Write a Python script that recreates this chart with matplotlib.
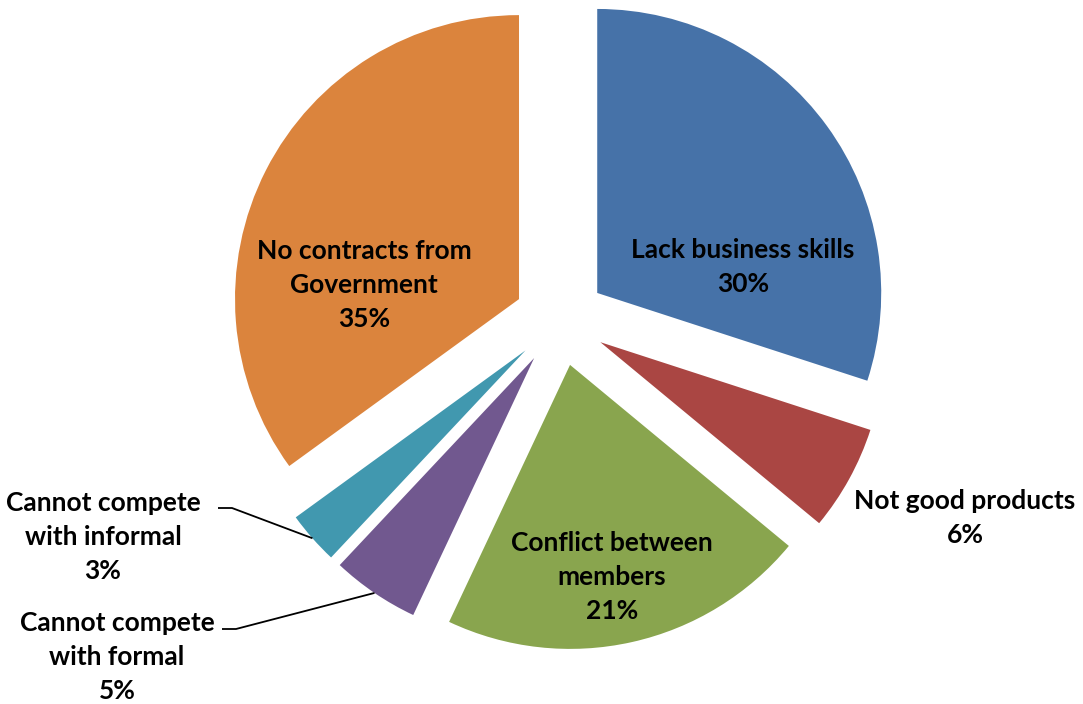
import numpy as np
import matplotlib
matplotlib.use("Agg")
import matplotlib.pyplot as plt

# data
categorias = [
    "Lack business skills",
    "Not good products",
    "Conflict between\nmembers",
    "Cannot compete\nwith formal",
    "Cannot compete\nwith informal",
    "No contracts from\nGovernment",
]
valores = [30, 6, 21, 5, 3, 35]
cores = ["#4672A8", "#AA4643", "#89A54E", "#71588F", "#4198AF", "#DB843D"]

W, H = 1083, 704
CX, CY, R = 560, 320, 284  # centro e raio em pixels


def px(x, y):
    # pixel (origem no topo) -> coordenadas do eixo
    return (x - CX) / R, (CY - y) / R


fig = plt.figure(figsize=(W / 100, H / 100), dpi=100, facecolor="white")
ax = fig.add_axes([0, 0, 1, 1])

wedges, _ = ax.pie(
    valores,
    colors=cores,
    startangle=90,
    counterclock=False,
    explode=[0.162] * len(valores),
    radius=1,
    wedgeprops=dict(linewidth=0),
)

ax.set_xlim(-CX / R, (W - CX) / R)
ax.set_ylim(-(H - CY) / R, CY / R)
ax.set_aspect("equal")
ax.axis("off")

fonte = dict(family=["Lato", "DejaVu Sans"], fontsize=19, fontweight="bold",
             color="black", ha="center", va="center", linespacing=1.5)

# posicao dos rotulos (pixels)
pos_rotulos = [(743, 267), (965, 518), (612, 577), (117, 657), (103, 537), (364, 285)]

for nome, valor, (x, y) in zip(categorias, valores, pos_rotulos):
    ax.text(*px(x, y), f"{nome}\n{valor}%", **fonte)

# linhas de chamada para as fatias pequenas
inicio_linhas = {3: (222, 629), 4: (218, 508)}
for i, (x0, y0) in inicio_linhas.items():
    w = wedges[i]
    meio = np.deg2rad((w.theta1 + w.theta2) / 2)
    cx, cy = w.center
    fim = (cx + w.r * np.cos(meio), cy + w.r * np.sin(meio))
    a = px(x0, y0)
    b = (a[0] + 14 / R, a[1])
    ax.plot([a[0], b[0], fim[0]], [a[1], b[1], fim[1]], color="black", lw=1.3,
            solid_capstyle="butt")

plt.savefig("out.png", dpi=100, facecolor="white")
